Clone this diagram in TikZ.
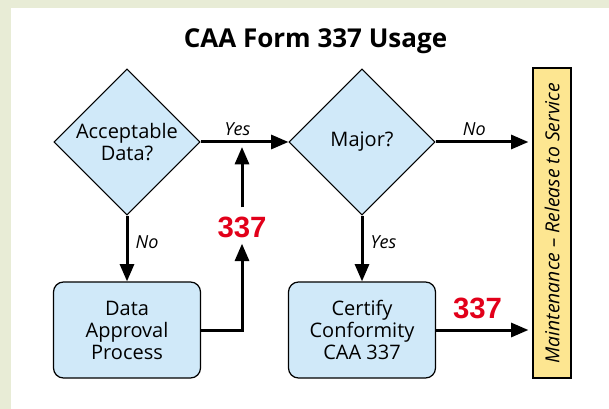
\documentclass[tikz,border=0pt]{standalone}
\usepackage{fontspec}
\setmainfont{Open Sans}
\newfontfamily\numfont{Liberation Sans}
\usetikzlibrary{shapes.geometric,arrows.meta,calc}
\definecolor{PaleGreen}{HTML}{E8ECD6}
\definecolor{SkyFill}{HTML}{D0E9F9}
\definecolor{ButterFill}{HTML}{FDE691}
\definecolor{FormRed}{HTML}{E2001A}
\tikzset{
    decision/.style = {draw, diamond, fill=SkyFill, line width=0.8pt,
        minimum width=109.5pt, minimum height=109.5pt, inner sep=0pt},
    qtext/.style = {align=center, font=\fontsize{15}{16.5}\selectfont},
    block/.style = {draw, rectangle, rounded corners=7.5pt, fill=SkyFill,
        line width=0.9pt, minimum width=110.25pt, minimum height=72pt,
        align=center, font=\fontsize{15}{16.5}\selectfont},
    bar/.style = {draw, rectangle, fill=ButterFill, line width=0.9pt,
        minimum width=28.5pt, minimum height=232.5pt, inner sep=0pt,
        font=\itshape\fontsize{14.5}{16}\selectfont},
    arrow/.style = {draw, line width=2.25pt, -{Triangle[length=13pt,width=10.5pt]}},
    lbl/.style = {font=\itshape\fontsize{13.5}{15}\selectfont},
    num/.style = {text=FormRed, inner sep=0pt,
        font=\numfont\bfseries\fontsize{22}{22}\selectfont},
    title/.style = {font=\bfseries\fontsize{19.5}{22}\selectfont}
}

\begin{document}
\begin{tikzpicture}[x=0.75pt,y=-0.75pt]
    \useasboundingbox (0,0) rectangle (609,409);
    \fill[PaleGreen] (0,0) rectangle (609,409);
    \fill[white] (11,8) rectangle (609,409);

    \node[title] (ttl) at (315.5,41) {CAA Form 337 Usage};

    \node[decision, label={[qtext]center:{Acceptable\\Data?}}] (acc) at (127,142) {};
    \node[decision, label={[qtext]center:{Major?}}] (maj) at (362,142) {};
    \node[block] (dap) at (127,330) {Data\\Approval\\Process};
    \node[block] (cert) at (362,330) {Certify\\Conformity\\CAA 337};
    \node[bar] (rts) at (552,223) {\rotatebox{90}{Maintenance – Release to Service}};
    \node[num] (n1) at (242,227) {337};

    % yes / no paths
    \draw[arrow] (acc.east) -- (maj.west) node[lbl, above, pos=0.42] {Yes};
    \draw[arrow] (acc.south) -- (acc.south |- dap.north) node[lbl, right, pos=0.4, xshift=2pt] {No};
    \draw[arrow, shorten >=3pt] (maj.east) -- (maj.east -| rts.west) node[lbl, above, pos=0.4] {No};
    \draw[arrow] (maj.south) -- (maj.south |- cert.north) node[lbl, right, pos=0.4, xshift=2pt] {Yes};

    % 337 paths
    \draw[arrow, shorten >=4.5pt] (dap.east) -| (n1.south);
    \draw[arrow, shorten <=6.75pt, shorten >=3.75pt] (n1.north) -- (n1.north |- acc.east);
    \draw[arrow, shorten >=3pt] (cert.east) -- (cert.east -| rts.west) node[num, above=7pt, pos=0.43] (n2) {337};
\end{tikzpicture}
\end{document}
